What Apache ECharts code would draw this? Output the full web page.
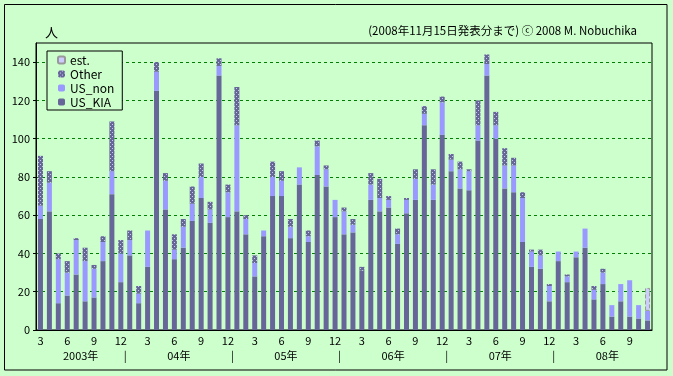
<!DOCTYPE html>
<html>
<head>
<meta charset="utf-8">
<script src="https://cdn.jsdelivr.net/npm/echarts@6/dist/echarts.min.js"></script>
<style>
    html, body { margin: 0; padding: 0; background: #ccffcc; }
    #main { width: 673px; height: 376px; }
</style>
</head>
<body>
<div id="main"></div>
<script>
// monthly counts, 2003/3 .. 2008/11
let usKia = [58, 62, 14, 18, 29, 15, 17, 36, 71, 25,
    39, 14, 33, 125, 63, 37, 43, 57, 69, 56, 133, 59,
    62, 50, 28, 49, 70, 70, 48, 76, 46, 81, 75, 59,
    50, 51, 31, 68, 62, 64, 45, 61, 68, 107, 68, 102,
    83, 74, 73, 99, 133, 100, 74, 72, 46, 33, 32, 15,
    36, 25, 38, 43, 16, 24, 7, 15, 7, 6, 5];
let usNon = [7, 15, 23, 12, 18, 21, 15, 10, 12, 15,
    8, 5, 19, 10, 15, 5, 11, 9, 11, 7, 5, 13,
    45, 8, 7, 3, 10, 8, 6, 9, 3, 15, 9, 9,
    12, 4, 0, 8, 7, 4, 5, 7, 11, 6, 8, 17,
    6, 10, 10, 8, 6, 7, 12, 14, 23, 8, 7, 8,
    5, 3, 3, 10, 5, 6, 6, 9, 19, 7, 5];
let other = [26, 6, 3, 6, 1, 7, 2, 3, 26, 7,
    5, 4, 0, 5, 4, 8, 4, 9, 7, 4, 4, 4,
    20, 2, 4, 0, 8, 5, 4, 0, 3, 3, 2, 0,
    2, 3, 2, 6, 10, 2, 3, 1, 5, 4, 8, 3,
    3, 4, 1, 13, 5, 7, 9, 4, 3, 1, 3, 1,
    0, 1, 0, 0, 2, 2, 0, 0, 0, 0, 0];
let est = [];
for (let i = 0; i < 68; i++) est.push('-');
est.push(12);

let yearNames = ['2003年', '04年', '05年', '06年', '07年', '08年'];

let months = [];
for (let y = 2003, m = 3; y < 2008 || m <= 11; m++) {
    if (m > 12) { m = 1; y++; }
    months.push(y + '/' + m);
}

// year label sits in the middle of its months, '|' between years
let yearLabel = {};
let starts = [];
months.forEach((s, i) => {
    if (i === 0 || s.split('/')[1] === '1') starts.push(i);
});
starts.forEach((s, k) => {
    let end = k + 1 < starts.length ? starts[k + 1] : s + 12;
    yearLabel[(s + end) / 2] = yearNames[k];
    if (k > 0) yearLabel[s] = '|';
});

// dotted fill for "Other"
let pat = document.createElement('canvas');
pat.width = 4;
pat.height = 4;
let ctx = pat.getContext('2d');
ctx.fillStyle = '#666699';
ctx.fillRect(0, 0, 4, 4);
ctx.fillStyle = '#c8c8f0';
ctx.fillRect(0, 0, 1, 1);
ctx.fillRect(2, 2, 1, 1);

let font = '"Noto Sans CJK JP", sans-serif';
var myChart = echarts.init(document.getElementById('main'));
option = {
    backgroundColor: '#ccffcc',
    animation: false,
    textStyle: { fontFamily: font },
    title: [
        { text: '人', left: 40, top: 21, textStyle: { fontSize: 13, fontWeight: 'normal', color: '#000', fontFamily: font } },
        { text: '(2008年11月15日発表分まで) ⓒ 2008 M. Nobuchika', right: 31, top: 20,
          textStyle: { fontSize: 11.5, fontWeight: 'normal', color: '#000', fontFamily: font } }
    ],
    graphic: [{
        type: 'rect',
        shape: { x: 4.5, y: 4.5, width: 662.5, height: 365.5 },
        style: { fill: 'none', stroke: '#000', lineWidth: 1 },
        silent: true
    }],
    legend: {
        orient: 'vertical',
        left: 47,
        top: 51,
        padding: [3, 8, 2, 10],
        itemWidth: 7,
        itemHeight: 7,
        itemGap: 2,
        backgroundColor: '#ccffcc',
        borderColor: '#000',
        borderWidth: 1,
        borderRadius: 0,
        data: ['est.', 'Other', 'US_non', 'US_KIA'],
        textStyle: { fontSize: 12, color: '#000', fontFamily: font }
    },
    grid: {
        left: 36,
        right: 21,
        top: 43,
        bottom: 46,
        show: true,
        borderColor: '#000',
        borderWidth: 1
    },
    xAxis: [
        {
            type: 'category',
            data: months,
            axisLine: { lineStyle: { color: '#000' } },
            axisTick: { show: false },
            axisLabel: {
                interval: 0,
                margin: 5,
                fontSize: 11,
                color: '#000',
                formatter: function(v) {
                    let m = +v.split('/')[1];
                    return m % 3 === 0 ? String(m) : '';
                }
            }
        },
        {
            type: 'value',
            position: 'bottom',
            offset: 16,
            min: 0,
            max: months.length,
            interval: 1,
            axisLine: { show: false },
            axisTick: { show: false },
            splitLine: { show: false },
            axisLabel: {
                margin: 4,
                fontSize: 11,
                color: '#000',
                formatter: function(v) {
                    return yearLabel[v] || '';
                }
            }
        }
    ],
    yAxis: {
        type: 'value',
        min: 0,
        max: 150,
        interval: 20,
        axisLine: { show: true, lineStyle: { color: '#000' } },
        axisTick: { show: true, length: 3, lineStyle: { color: '#000' } },
        axisLabel: { fontSize: 11, color: '#000', margin: 6, showMaxLabel: false },
        splitLine: {
            show: true,
            showMinLine: false,
            showMaxLine: false,
            lineStyle: { color: '#008000', type: [3, 3] }
        }
    },
    series: [
        { name: 'US_KIA', type: 'bar', stack: 'a', barWidth: 5, data: usKia,
          itemStyle: { color: '#666699' } },
        { name: 'US_non', type: 'bar', stack: 'a', barWidth: 5, data: usNon,
          itemStyle: { color: '#9999ff' } },
        { name: 'Other', type: 'bar', stack: 'a', barWidth: 5, data: other,
          itemStyle: { color: { image: pat, repeat: 'repeat' } } },
        { name: 'est.', type: 'bar', stack: 'a', barWidth: 5, data: est,
          itemStyle: { color: '#ccccff', borderColor: '#999999', borderWidth: 1, borderType: 'dashed' } }
    ]
};
myChart.setOption(option);
</script>
</body>
</html>
